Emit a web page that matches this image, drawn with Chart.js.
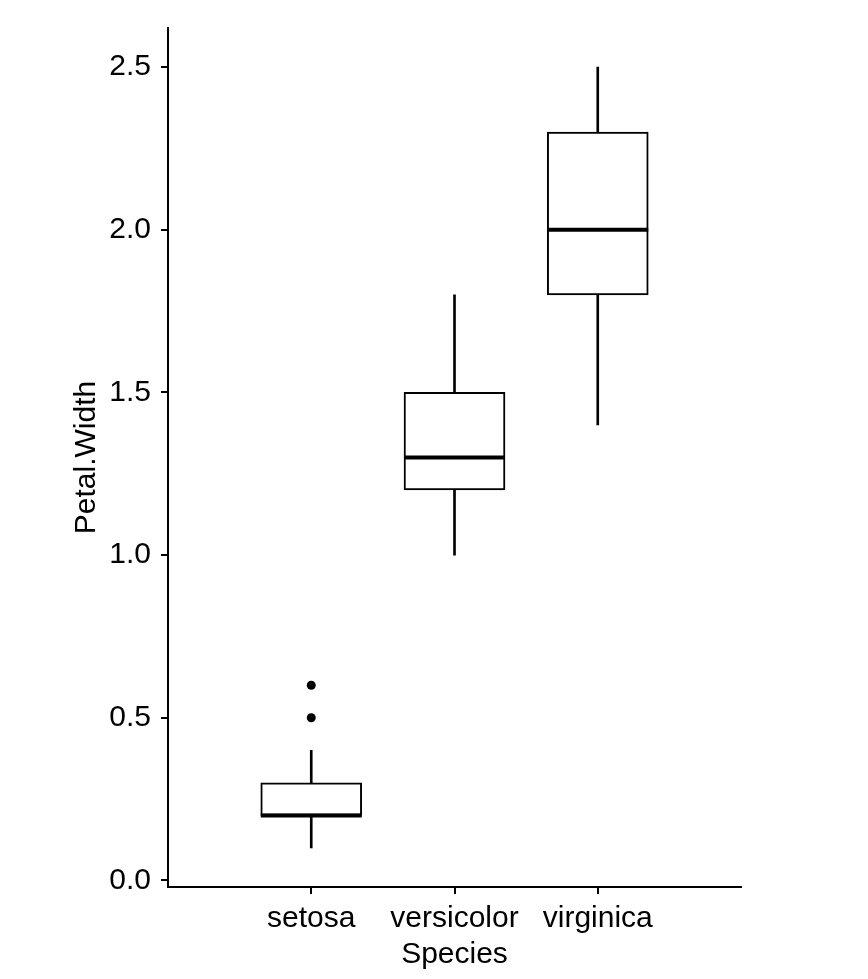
<!DOCTYPE html>
<html>
<head>
<meta charset="utf-8">
<script src="https://cdn.jsdelivr.net/npm/chart.js@4/dist/chart.umd.min.js"></script>
<style>
  html, body { margin: 0; padding: 0; background: #ffffff; }
  #wrap { position: relative; width: 868px; height: 979px; }
</style>
</head>
<body>
<div id="wrap"><canvas id="box"></canvas></div>
<script>
/* iris – Petal.Width by Species, boxplot (classic theme) */

const species     = ['setosa', 'versicolor', 'virginica'];
const speciesPos  = [1, 2, 3];
const whiskerLow  = [0.1, 1.0, 1.4];
const q1          = [0.2, 1.2, 1.8];
const median      = [0.2, 1.3, 2.0];
const q3          = [0.3, 1.5, 2.3];
const whiskerHigh = [0.4, 1.8, 2.5];
const outlierX    = [1, 1];
const outlierY    = [0.5, 0.6];
const yTicks      = [0, 0.5, 1, 1.5, 2, 2.5];

const INK  = '#000000';
const FONT = "'Liberation Sans', Arial, sans-serif";

const whiskerData = speciesPos.map((x, i) => ({ x, y: [whiskerLow[i], whiskerHigh[i]] }));
const boxData     = speciesPos.map((x, i) => ({ x, y: [q1[i], q3[i]] }));
const medianData  = speciesPos.map((x, i) => ({ x, y: median[i] }));
const outlierData = outlierX.map((x, i) => ({ x, y: outlierY[i] }));

new Chart(document.getElementById('box'), {
    type: 'bar',
    data: {
        datasets: [
            {
                label: 'whisker',
                data: whiskerData,
                backgroundColor: INK,
                borderWidth: 0,
                barThickness: 2,
                grouped: false,
                order: 3,
            },
            {
                label: 'box',
                data: boxData,
                backgroundColor: '#ffffff',
                borderColor: INK,
                borderWidth: 2,
                borderSkipped: false,
                barThickness: 101,
                grouped: false,
                order: 2,
            },
            {
                type: 'scatter',
                label: 'median',
                data: medianData,
                pointStyle: 'line',
                pointRadius: 50.5,
                pointHoverRadius: 50.5,
                pointBorderColor: INK,
                pointBorderWidth: 4,
                order: 1,
            },
            {
                type: 'scatter',
                label: 'outlier',
                data: outlierData,
                pointStyle: 'circle',
                pointRadius: 4.5,
                pointBackgroundColor: INK,
                pointBorderColor: INK,
                pointBorderWidth: 0,
                order: 0,
            },
        ],
    },
    options: {
        responsive: true,
        maintainAspectRatio: false,
        animation: false,
        events: [],
        // the wide median "line" points would otherwise push the plot area down
        layout: { autoPadding: false, padding: { left: 0, right: 127, top: 28, bottom: 0 } },
        plugins: { legend: { display: false }, tooltip: { enabled: false } },
        scales: {
            x: {
                type: 'linear',
                min: 0, max: 4,
                offset: false,
                afterBuildTicks: s => { s.ticks = speciesPos.map(v => ({ value: v })); },
                afterFit: s => {
                    s.height = 92;
                    s.paddingLeft = 0; s.paddingRight = 0;
                },
                grid: {
                    display: true, drawOnChartArea: false, drawTicks: true,
                    offset: false, tickLength: 7, color: INK, lineWidth: 2,
                },
                border: { display: true, color: INK, width: 2 },
                ticks: {
                    color: INK, padding: 7, maxRotation: 0, autoSkip: false,
                    font: { family: FONT, size: 30 },
                    callback: v => species[speciesPos.indexOf(v)] ?? '',
                },
                title: {
                    display: true, text: 'Species', color: INK,
                    font: { family: FONT, size: 30 },
                    padding: { top: 0, bottom: 6 },
                },
            },
            y: {
                min: -0.02, max: 2.62,
                afterBuildTicks: s => { s.ticks = yTicks.map(v => ({ value: v })); },
                afterFit: s => {
                    s.width = 168;
                    s.paddingTop = 0; s.paddingBottom = 0;
                },
                grid: {
                    display: true, drawOnChartArea: false, drawTicks: true,
                    tickLength: 7, color: INK, lineWidth: 2,
                },
                border: { display: true, color: INK, width: 2 },
                ticks: {
                    color: INK, padding: 10,
                    font: { family: FONT, size: 30 },
                    callback: v => Number(v).toFixed(1),
                },
                title: {
                    display: true, text: 'Petal.Width', color: INK,
                    font: { family: FONT, size: 30 },
                    padding: { top: 69, bottom: 0 },
                },
            },
        },
    },
});
</script>
</body>
</html>
